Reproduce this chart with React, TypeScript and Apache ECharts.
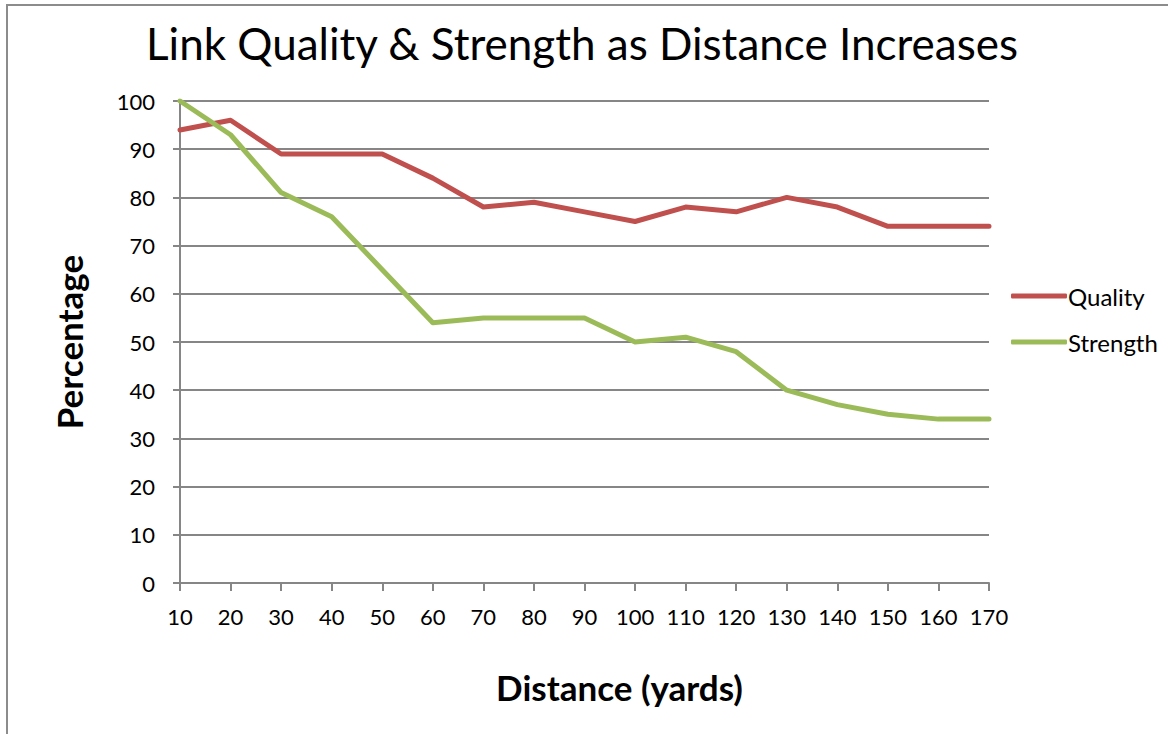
import React, { useEffect, useRef } from "react";
import * as echarts from "echarts";

const distances = ["10", "20", "30", "40", "50", "60", "70", "80", "90", "100", "110", "120", "130", "140", "150", "160", "170"];
const quality = [94, 96, 89, 89, 89, 84, 78, 79, 77, 75, 78, 77, 80, 78, 74, 74, 74];
const strength = [100, 93, 81, 76, 65, 54, 55, 55, 55, 50, 51, 48, 40, 37, 35, 34, 34];

const FONT = "Lato, 'Open Sans', sans-serif";

export default function App() {
  const ref = useRef<HTMLDivElement>(null);
  useEffect(() => {
    const chart = echarts.init(ref.current!, undefined, { renderer: "svg" });
    chart.setOption({
      animation: false,
      backgroundColor: "#ffffff",
      textStyle: { fontFamily: FONT },
      title: {
        text: "Link Quality & Strength as Distance Increases",
        left: 577,
        top: 16,
        textAlign: "center",
        textStyle: { fontFamily: FONT, fontSize: 44, fontWeight: "normal", color: "#000" },
      },
      graphic: [
        {
          type: "rect",
          shape: { x: 7, y: 5, width: 1200, height: 800 },
          style: { fill: "none", stroke: "#8c8c8c", lineWidth: 2 },
          silent: true,
          z: -1,
        },
      ],
      legend: {
        orient: "vertical",
        left: 1006,
        top: 279,
        icon: "roundRect",
        itemWidth: 56,
        itemHeight: 5,
        itemGap: 22,
        textStyle: { fontFamily: FONT, fontSize: 24, lineHeight: 24, color: "#000", padding: [0, 0, 0, -4] },
        data: ["Quality", "Strength"],
      },
      grid: { left: 180, right: 179, top: 101, bottom: 151, containLabel: false },
      xAxis: {
        type: "category",
        data: distances,
        boundaryGap: false,
        name: "Distance (yards)",
        nameLocation: "middle",
        nameGap: 86,
        nameTextStyle: { fontFamily: FONT, fontSize: 35, fontWeight: "bold", color: "#000", padding: [0, 0, 0, 70] },
        axisLine: { lineStyle: { color: "#868686", width: 2 } },
        axisTick: { alignWithLabel: true, inside: false, length: 8, lineStyle: { color: "#868686", width: 2 } },
        axisLabel: { fontFamily: FONT, fontSize: 22, color: "#000", margin: 22 },
        splitLine: { show: false },
      },
      yAxis: {
        type: "value",
        min: 0,
        max: 100,
        interval: 10,
        name: "Percentage",
        nameLocation: "middle",
        nameGap: 94,
        nameRotate: 90,
        nameTextStyle: { fontFamily: FONT, fontSize: 35, fontWeight: "bold", color: "#000" },
        axisLine: { show: true, lineStyle: { color: "#868686", width: 2 } },
        axisTick: { show: true, length: 7, lineStyle: { color: "#868686", width: 2 } },
        axisLabel: { fontFamily: FONT, fontSize: 22, color: "#000", margin: 25 },
        splitLine: { show: true, lineStyle: { color: "#868686", width: 2 } },
      },
      series: [
        {
          name: "Quality",
          type: "line",
          data: quality,
          symbol: "none",
          color: "#C0504D",
          lineStyle: { color: "#C0504D", width: 5, cap: "round", join: "round" },
        },
        {
          name: "Strength",
          type: "line",
          data: strength,
          symbol: "none",
          color: "#9BBB59",
          lineStyle: { color: "#9BBB59", width: 5, cap: "round", join: "round" },
        },
      ],
    });
    return () => chart.dispose();
  }, []);
  return (
    <div
      ref={ref}
      style={{ position: "absolute", left: 0, top: 0, width: 1168, height: 734 }}
    />
  );
}
